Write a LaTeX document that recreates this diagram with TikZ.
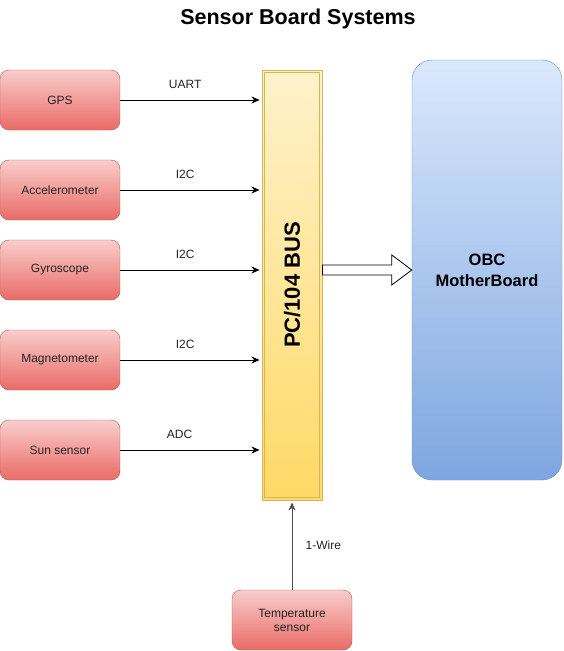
\documentclass[tikz,border=0pt]{standalone}
\usepackage{fontspec}
\setmainfont{Liberation Sans}
\usetikzlibrary{positioning,arrows.meta,calc}

\definecolor{redtop}{HTML}{F8CECC}
\definecolor{redbot}{HTML}{EA6B66}
\definecolor{redline}{HTML}{B85450}
\definecolor{yeltop}{HTML}{FFF2CC}
\definecolor{yelbot}{HTML}{FFD966}
\definecolor{yelline}{HTML}{D6B656}
\definecolor{bluetop}{HTML}{DAE8FC}
\definecolor{bluebot}{HTML}{7EA6E0}
\definecolor{blueline}{HTML}{6C8EBF}
\definecolor{txt}{HTML}{222222}

\begin{document}
\begin{tikzpicture}[x=1pt, y=-1pt,
  sensor/.style={shape=rectangle, rounded corners=9pt, draw=redline, top color=redtop, bottom color=redbot, minimum width=120pt, minimum height=60pt, inner sep=0pt, align=center, text=txt, font=\fontsize{12}{14}\selectfont},
  bus/.style={shape=rectangle, draw=yelline, line width=0.9pt, top color=yeltop, bottom color=yelbot, minimum width=60pt, minimum height=430pt, inner sep=0pt},
  obc/.style={shape=rectangle, rounded corners=20pt, draw=blueline, top color=bluetop, bottom color=bluebot, minimum width=150pt, minimum height=420pt, inner sep=0pt, align=center, font=\fontsize{16.5}{21}\selectfont\bfseries},
  link/.style={-{Stealth[length=8pt, width=7pt, inset=2.5pt]}, shorten >=2pt, line width=0.8pt},
  lbl/.style={text=txt, font=\fontsize{12}{14}\selectfont},
]
\useasboundingbox (0,0) rectangle (563,651);

%title
\node (title) at (298,19) {\fontsize{21.5}{24}\selectfont\bfseries Sensor Board Systems};

%blocks
\node (bus) at (292,285) [bus] {};
\draw[yelline, line width=0.9pt] ($(bus.north west)+(2.6,2.6)$) rectangle ($(bus.south east)+(-2.6,-2.6)$);
\node[rotate=90, font=\fontsize{22}{24}\selectfont\bfseries] at (bus.center) {PC/104 BUS};
\node (obc) at (487,270) [obc] {OBC\\MotherBoard};

\draw
node (gps) at (60,100) [sensor] {GPS}
node (acc) at (60,190) [sensor] {Accelerometer}
node (gyro) at (60,270) [sensor] {Gyroscope}
node (mag) at (60,360) [sensor] {Magnetometer}
node (sun) at (60,450) [sensor] {Sun sensor}
node (temp) at (292,620) [sensor] {Temperature\\sensor};

%links
\draw[link] (gps.east) -- node[lbl, pos=0.46, yshift=16pt] {UART} (gps.east -| bus.west);
\draw[link] (acc.east) -- node[lbl, pos=0.46, yshift=16pt] {I2C} (acc.east -| bus.west);
\draw[link] (gyro.east) -- node[lbl, pos=0.46, yshift=16pt] {I2C} (gyro.east -| bus.west);
\draw[link] (mag.east) -- node[lbl, pos=0.46, yshift=16pt] {I2C} (mag.east -| bus.west);
\draw[link] (sun.east) -- node[lbl, pos=0.42, yshift=16pt] {ADC} (sun.east -| bus.west);
\draw[link, draw=txt!80] (temp.north) -- node[lbl, right=10pt] {1-Wire} (bus.south);

%bus to obc
\coordinate (a0) at (bus.east |- obc.west);
\draw[line width=0.8pt, fill=white]
($(a0)+(0,-5)$) -- ($(obc.west)+(-20,-5)$) -- ($(obc.west)+(-20,-15)$) -- (obc.west)
-- ($(obc.west)+(-20,15)$) -- ($(obc.west)+(-20,5)$) -- ($(a0)+(0,5)$) -- cycle;

\end{tikzpicture}
\end{document}
